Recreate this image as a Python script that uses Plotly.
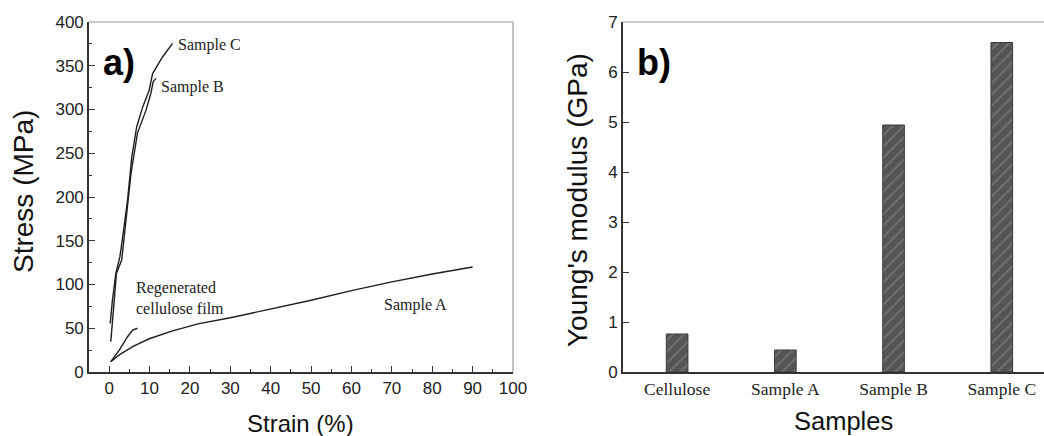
import plotly.graph_objects as go

# ---- Data: panel a) stress-strain curves ----
strain_C = [0.25, 0.8, 1.65, 2.65, 3.47, 4.55, 5.6, 6.8, 8.3, 9.9, 10.75, 13.2, 15.7]
stress_C = [55.6, 82, 112.8, 131.8, 158.5, 196.6, 246, 280, 303, 322, 341, 360, 375.6]

strain_B = [0.4, 1.24, 1.8, 3.1, 4.1, 5.4, 7.0, 9.1, 10.3, 10.9, 11.6]
stress_B = [34.7, 82, 113, 128, 174, 227, 273, 299, 318, 332, 335.6]

strain_A = [0.4, 2.5, 5.8, 9.9, 15.7, 22, 30, 40, 50, 60, 70, 80, 86, 90]
stress_A = [11.8, 19.5, 29, 38, 47, 55, 62, 72, 82, 93, 103, 112, 117, 120]

strain_R = [0.4, 2.5, 4.5, 5.8, 7.0]
stress_R = [11.8, 25, 40, 48, 50]

# ---- Data: panel b) Young's modulus ----
samples = ["Cellulose", "Sample A", "Sample B", "Sample C"]
modulus = [0.76, 0.44, 4.94, 6.59]

W, H = 1044, 436
def px(x): return x / W
def py(y): return 1 - y / H

xa_dom = [px(89), px(513)]
xb_dom = [px(623), 1.0]
y_dom = [py(372), py(22)]

fig = go.Figure()
line_style = dict(color="#1e1e1e", width=1.4)
for xs, ys in [(strain_C, stress_C), (strain_B, stress_B), (strain_A, stress_A), (strain_R, stress_R)]:
    fig.add_trace(go.Scatter(x=xs, y=ys, mode="lines", line=line_style, showlegend=False,
                             xaxis="x", yaxis="y"))

fig.add_trace(go.Bar(x=samples, y=modulus, width=0.2, xaxis="x2", yaxis="y2", showlegend=False,
                     marker=dict(color="#555555", line=dict(color="#3a3a3a", width=1),
                                 pattern=dict(shape="/", fillmode="overlay", fgcolor="#8c8c8c",
                                              size=8, solidity=0.25))))

sans = "Liberation Sans, Arial, sans-serif"
serif = "Liberation Serif, Times New Roman, serif"
axcol = "#333333"

fig.update_layout(
    template="none",
    width=W, height=H, margin=dict(l=0, r=0, t=0, b=0, autoexpand=False),
    paper_bgcolor="white", plot_bgcolor="white",
    font=dict(family=sans, color="#111"),
    xaxis=dict(domain=xa_dom, range=[-5, 100], tickvals=list(range(0, 101, 10)), automargin=False,
               ticks="inside", ticklen=6, tickwidth=1.3, tickcolor=axcol,
               minor=dict(tickvals=list(range(5, 100, 10)), ticks="inside", ticklen=3, tickcolor=axcol),
               showline=True, linecolor=axcol, linewidth=1.6, showgrid=False, zeroline=False,
               tickfont=dict(size=17, family=sans, color="#222"), anchor="y"),
    yaxis=dict(domain=y_dom, range=[0, 400], tickvals=list(range(0, 401, 50)), automargin=False,
               ticks="inside", ticklen=6, tickwidth=1.3, tickcolor=axcol,
               minor=dict(tickvals=list(range(25, 400, 50)), ticks="inside", ticklen=3, tickcolor=axcol),
               showline=True, linecolor=axcol, linewidth=1.6, showgrid=False, zeroline=False,
               tickfont=dict(size=17, family=sans, color="#222"), anchor="x"),
    xaxis2=dict(domain=xb_dom, range=[-0.5, 3.39], type="category", ticks="", automargin=False,
                showline=True, linecolor=axcol, linewidth=1.6, showgrid=False, zeroline=False,
                tickfont=dict(size=17.5, family=serif, color="#222"), anchor="y2"),
    yaxis2=dict(domain=y_dom, range=[0, 7], tickvals=list(range(0, 8)), automargin=False,
                ticks="inside", ticklen=6, tickwidth=1.3, tickcolor=axcol,
                showline=True, linecolor=axcol, linewidth=1.6, showgrid=False, zeroline=False,
                tickfont=dict(size=17, family=sans, color="#222"), anchor="x2"),
)

# light top/right frame lines
for xr, yr in [("x domain", "y domain"), ("x2 domain", "y2 domain")]:
    fig.add_shape(type="line", xref=xr, yref=yr, x0=0, x1=1, y0=1, y1=1,
                  line=dict(color="#9a9a9a", width=1.2))
fig.add_shape(type="line", xref="x domain", yref="y domain", x0=1, x1=1, y0=0, y1=1,
              line=dict(color="#9a9a9a", width=1.2))

ann = []
def paper_text(text, x, y, size, angle=0, family=sans, color="#111"):
    ann.append(dict(text=text, x=px(x), y=py(y), xref="paper", yref="paper",
                    xanchor="center", yanchor="middle", textangle=angle, showarrow=False,
                    font=dict(size=size, family=family, color=color)))

# axis titles
paper_text("Strain (%)", 300, 423, 24)
paper_text("Stress (MPa)", 23, 192, 28, angle=-90)
paper_text("Samples", 843, 421, 25.5)
paper_text("Young's modulus (GPa)", 577, 200, 28, angle=-90)
# panel labels
paper_text("<b>a)</b>", 119, 62, 36, color="#000")
paper_text("<b>b)</b>", 654, 62, 36, color="#000")

# curve labels (data coords)
lab_font = dict(size=16, family=serif, color="#222")
def data_text(text, x, y):
    ann.append(dict(text=text, x=x, y=y, xref="x", yref="y", xanchor="left", yanchor="middle",
                    align="left", showarrow=False, font=lab_font))

data_text("Sample C", 16.5, 374)
data_text("Sample B", 12.3, 326)
data_text("Regenerated<br>cellulose film", 6.2, 85)
data_text("Sample A", 67.5, 77)
fig.update_layout(annotations=ann)

fig.write_html("out.html")
